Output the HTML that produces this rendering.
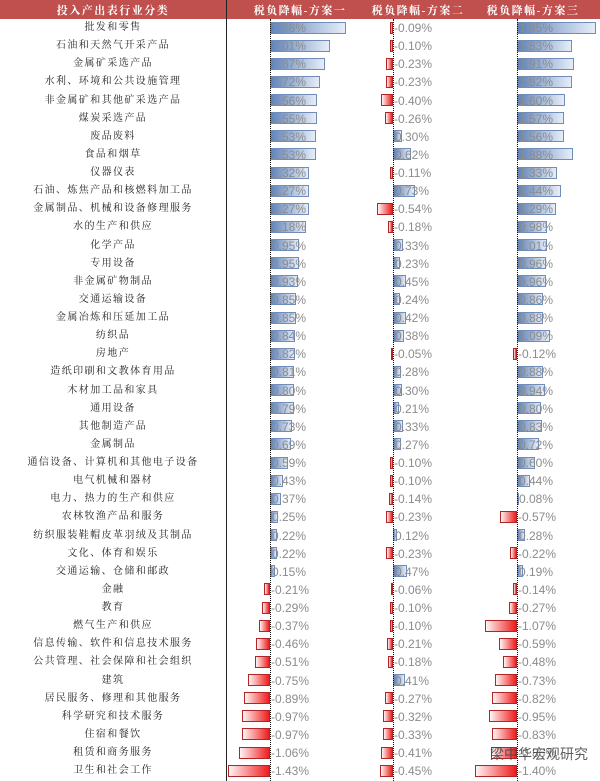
<!DOCTYPE html>
<html><head><meta charset="utf-8"><style>
body{margin:0;width:600px;height:781px;overflow:hidden;background:#fff;position:relative;font-family:"Liberation Sans","Noto Sans CJK SC",sans-serif}
.h{position:absolute;left:0;top:0;width:600px;height:19px;background:#c0504d}
.h span{position:absolute;top:2px;color:#fff;font:bold 11px "Liberation Serif","Noto Serif CJK SC",serif;letter-spacing:1.5px;white-space:nowrap;transform:translateX(-50%)}
.vl{position:absolute;left:226px;top:0;width:1px;height:781px;background:#222}
.z{position:absolute;top:19px;height:762px;border-left:1px dotted #111}
#rows{position:absolute;top:19px;left:0;width:600px}
.r{position:relative;height:18.14px}
.l{position:absolute;left:0;width:226px;text-align:center;font:10px "Liberation Serif","Noto Serif CJK SC",serif;letter-spacing:1.4px;color:#222;line-height:18px;white-space:nowrap}
i{position:absolute;top:2.5px;height:12px;box-sizing:border-box}
i.p{background:linear-gradient(to right,#5f82b8,#e6edf8);border:1px solid #6f8cba}
i.n{background:linear-gradient(to right,#fff4f4,#ee1c1c);border:1px solid #b32525}
s{position:absolute;text-decoration:none;font-size:12px;color:#8c8c8c;line-height:18px}
.wm{position:absolute;left:490px;top:744px;font:14px "Noto Sans CJK SC",sans-serif;color:#444;opacity:.85}
</style></head><body>
<div class="h"><span style="left:113px">投入产出表行业分类</span><span style="left:300px">税负降幅-方案一</span><span style="left:418px">税负降幅-方案二</span><span style="left:533px">税负降幅-方案三</span></div>
<div class="vl"></div>
<div id="rows">
<div class="r"><div class="l">批发和零售</div><i class="p" style="left:270px;width:76px"></i><s style="left:272px">1.66%</s><i class="n" style="left:390px;width:3px"></i><s style="left:394px">-0.09%</s><i class="p" style="left:517px;width:79px"></i><s style="left:519px">1.65%</s></div>
<div class="r"><div class="l">石油和天然气开采产品</div><i class="p" style="left:270px;width:60px"></i><s style="left:272px">1.01%</s><i class="n" style="left:390px;width:3px"></i><s style="left:394px">-0.10%</s><i class="p" style="left:517px;width:55px"></i><s style="left:519px">1.83%</s></div>
<div class="r"><div class="l">金属矿采选产品</div><i class="p" style="left:270px;width:55px"></i><s style="left:272px">1.87%</s><i class="n" style="left:386px;width:7px"></i><s style="left:394px">-0.23%</s><i class="p" style="left:517px;width:57px"></i><s style="left:519px">1.91%</s></div>
<div class="r"><div class="l">水利、环境和公共设施管理</div><i class="p" style="left:270px;width:50px"></i><s style="left:272px">1.72%</s><i class="n" style="left:386px;width:7px"></i><s style="left:394px">-0.23%</s><i class="p" style="left:517px;width:55px"></i><s style="left:519px">1.82%</s></div>
<div class="r"><div class="l">非金属矿和其他矿采选产品</div><i class="p" style="left:270px;width:47px"></i><s style="left:272px">1.56%</s><i class="n" style="left:381px;width:12px"></i><s style="left:394px">-0.40%</s><i class="p" style="left:517px;width:48px"></i><s style="left:519px">1.60%</s></div>
<div class="r"><div class="l">煤炭采选产品</div><i class="p" style="left:270px;width:47px"></i><s style="left:272px">1.55%</s><i class="n" style="left:385px;width:8px"></i><s style="left:394px">-0.26%</s><i class="p" style="left:517px;width:47px"></i><s style="left:519px">1.57%</s></div>
<div class="r"><div class="l">废品废料</div><i class="p" style="left:270px;width:46px"></i><s style="left:272px">1.53%</s><i class="p" style="left:393px;width:9px"></i><s style="left:395px">0.30%</s><i class="p" style="left:517px;width:47px"></i><s style="left:519px">1.56%</s></div>
<div class="r"><div class="l">食品和烟草</div><i class="p" style="left:270px;width:46px"></i><s style="left:272px">1.53%</s><i class="p" style="left:393px;width:18px"></i><s style="left:395px">0.62%</s><i class="p" style="left:517px;width:56px"></i><s style="left:519px">1.88%</s></div>
<div class="r"><div class="l">仪器仪表</div><i class="p" style="left:270px;width:39px"></i><s style="left:272px">1.32%</s><i class="n" style="left:390px;width:3px"></i><s style="left:394px">-0.11%</s><i class="p" style="left:517px;width:40px"></i><s style="left:519px">1.33%</s></div>
<div class="r"><div class="l">石油、炼焦产品和核燃料加工品</div><i class="p" style="left:270px;width:39px"></i><s style="left:272px">1.27%</s><i class="p" style="left:393px;width:22px"></i><s style="left:395px">0.73%</s><i class="p" style="left:517px;width:44px"></i><s style="left:519px">1.44%</s></div>
<div class="r"><div class="l">金属制品、机械和设备修理服务</div><i class="p" style="left:270px;width:39px"></i><s style="left:272px">1.27%</s><i class="n" style="left:377px;width:16px"></i><s style="left:394px">-0.54%</s><i class="p" style="left:517px;width:39px"></i><s style="left:519px">1.29%</s></div>
<div class="r"><div class="l">水的生产和供应</div><i class="p" style="left:270px;width:36px"></i><s style="left:272px">1.18%</s><i class="n" style="left:388px;width:5px"></i><s style="left:394px">-0.18%</s><i class="p" style="left:517px;width:30px"></i><s style="left:519px">0.98%</s></div>
<div class="r"><div class="l">化学产品</div><i class="p" style="left:270px;width:29px"></i><s style="left:272px">0.95%</s><i class="p" style="left:393px;width:10px"></i><s style="left:395px">0.33%</s><i class="p" style="left:517px;width:30px"></i><s style="left:519px">1.01%</s></div>
<div class="r"><div class="l">专用设备</div><i class="p" style="left:270px;width:29px"></i><s style="left:272px">0.95%</s><i class="p" style="left:393px;width:7px"></i><s style="left:395px">0.23%</s><i class="p" style="left:517px;width:29px"></i><s style="left:519px">0.96%</s></div>
<div class="r"><div class="l">非金属矿物制品</div><i class="p" style="left:270px;width:28px"></i><s style="left:272px">0.93%</s><i class="p" style="left:393px;width:13px"></i><s style="left:395px">0.45%</s><i class="p" style="left:517px;width:29px"></i><s style="left:519px">0.96%</s></div>
<div class="r"><div class="l">交通运输设备</div><i class="p" style="left:270px;width:26px"></i><s style="left:272px">0.85%</s><i class="p" style="left:393px;width:7px"></i><s style="left:395px">0.24%</s><i class="p" style="left:517px;width:26px"></i><s style="left:519px">0.86%</s></div>
<div class="r"><div class="l">金属冶炼和压延加工品</div><i class="p" style="left:270px;width:26px"></i><s style="left:272px">0.85%</s><i class="p" style="left:393px;width:13px"></i><s style="left:395px">0.42%</s><i class="p" style="left:517px;width:26px"></i><s style="left:519px">0.88%</s></div>
<div class="r"><div class="l">纺织品</div><i class="p" style="left:270px;width:25px"></i><s style="left:272px">0.84%</s><i class="p" style="left:393px;width:11px"></i><s style="left:395px">0.38%</s><i class="p" style="left:517px;width:33px"></i><s style="left:519px">1.09%</s></div>
<div class="r"><div class="l">房地产</div><i class="p" style="left:270px;width:25px"></i><s style="left:272px">0.82%</s><i class="n" style="left:391px;width:2px"></i><s style="left:394px">-0.05%</s><i class="n" style="left:513px;width:4px"></i><s style="left:518px">-0.12%</s></div>
<div class="r"><div class="l">造纸印刷和文教体育用品</div><i class="p" style="left:270px;width:24px"></i><s style="left:272px">0.81%</s><i class="p" style="left:393px;width:8px"></i><s style="left:395px">0.28%</s><i class="p" style="left:517px;width:26px"></i><s style="left:519px">0.88%</s></div>
<div class="r"><div class="l">木材加工品和家具</div><i class="p" style="left:270px;width:24px"></i><s style="left:272px">0.80%</s><i class="p" style="left:393px;width:9px"></i><s style="left:395px">0.30%</s><i class="p" style="left:517px;width:28px"></i><s style="left:519px">0.94%</s></div>
<div class="r"><div class="l">通用设备</div><i class="p" style="left:270px;width:24px"></i><s style="left:272px">0.79%</s><i class="p" style="left:393px;width:6px"></i><s style="left:395px">0.21%</s><i class="p" style="left:517px;width:24px"></i><s style="left:519px">0.80%</s></div>
<div class="r"><div class="l">其他制造产品</div><i class="p" style="left:270px;width:22px"></i><s style="left:272px">0.73%</s><i class="p" style="left:393px;width:10px"></i><s style="left:395px">0.33%</s><i class="p" style="left:517px;width:25px"></i><s style="left:519px">0.83%</s></div>
<div class="r"><div class="l">金属制品</div><i class="p" style="left:270px;width:21px"></i><s style="left:272px">0.69%</s><i class="p" style="left:393px;width:8px"></i><s style="left:395px">0.27%</s><i class="p" style="left:517px;width:22px"></i><s style="left:519px">0.72%</s></div>
<div class="r"><div class="l">通信设备、计算机和其他电子设备</div><i class="p" style="left:270px;width:18px"></i><s style="left:272px">0.59%</s><i class="n" style="left:390px;width:3px"></i><s style="left:394px">-0.10%</s><i class="p" style="left:517px;width:18px"></i><s style="left:519px">0.60%</s></div>
<div class="r"><div class="l">电气机械和器材</div><i class="p" style="left:270px;width:13px"></i><s style="left:272px">0.43%</s><i class="n" style="left:390px;width:3px"></i><s style="left:394px">-0.10%</s><i class="p" style="left:517px;width:13px"></i><s style="left:519px">0.44%</s></div>
<div class="r"><div class="l">电力、热力的生产和供应</div><i class="p" style="left:270px;width:11px"></i><s style="left:272px">0.37%</s><i class="n" style="left:389px;width:4px"></i><s style="left:394px">-0.14%</s><i class="p" style="left:517px;width:2px"></i><s style="left:519px">0.08%</s></div>
<div class="r"><div class="l">农林牧渔产品和服务</div><i class="p" style="left:270px;width:8px"></i><s style="left:272px">0.25%</s><i class="n" style="left:386px;width:7px"></i><s style="left:394px">-0.23%</s><i class="n" style="left:500px;width:17px"></i><s style="left:518px">-0.57%</s></div>
<div class="r"><div class="l">纺织服装鞋帽皮革羽绒及其制品</div><i class="p" style="left:270px;width:7px"></i><s style="left:272px">0.22%</s><i class="p" style="left:393px;width:4px"></i><s style="left:395px">0.12%</s><i class="p" style="left:517px;width:8px"></i><s style="left:519px">0.28%</s></div>
<div class="r"><div class="l">文化、体育和娱乐</div><i class="p" style="left:270px;width:7px"></i><s style="left:272px">0.22%</s><i class="n" style="left:386px;width:7px"></i><s style="left:394px">-0.23%</s><i class="n" style="left:510px;width:7px"></i><s style="left:518px">-0.22%</s></div>
<div class="r"><div class="l">交通运输、仓储和邮政</div><i class="p" style="left:270px;width:5px"></i><s style="left:272px">0.15%</s><i class="p" style="left:393px;width:14px"></i><s style="left:395px">0.47%</s><i class="p" style="left:517px;width:6px"></i><s style="left:519px">0.19%</s></div>
<div class="r"><div class="l">金融</div><i class="n" style="left:264px;width:6px"></i><s style="left:271px">-0.21%</s><i class="n" style="left:391px;width:2px"></i><s style="left:394px">-0.06%</s><i class="n" style="left:513px;width:4px"></i><s style="left:518px">-0.14%</s></div>
<div class="r"><div class="l">教育</div><i class="n" style="left:262px;width:8px"></i><s style="left:271px">-0.29%</s><i class="n" style="left:390px;width:3px"></i><s style="left:394px">-0.10%</s><i class="n" style="left:509px;width:8px"></i><s style="left:518px">-0.27%</s></div>
<div class="r"><div class="l">燃气生产和供应</div><i class="n" style="left:259px;width:11px"></i><s style="left:271px">-0.37%</s><i class="n" style="left:390px;width:3px"></i><s style="left:394px">-0.10%</s><i class="n" style="left:485px;width:32px"></i><s style="left:518px">-1.07%</s></div>
<div class="r"><div class="l">信息传输、软件和信息技术服务</div><i class="n" style="left:256px;width:14px"></i><s style="left:271px">-0.46%</s><i class="n" style="left:387px;width:6px"></i><s style="left:394px">-0.21%</s><i class="n" style="left:499px;width:18px"></i><s style="left:518px">-0.59%</s></div>
<div class="r"><div class="l">公共管理、社会保障和社会组织</div><i class="n" style="left:255px;width:15px"></i><s style="left:271px">-0.51%</s><i class="n" style="left:388px;width:5px"></i><s style="left:394px">-0.18%</s><i class="n" style="left:503px;width:14px"></i><s style="left:518px">-0.48%</s></div>
<div class="r"><div class="l">建筑</div><i class="n" style="left:248px;width:22px"></i><s style="left:271px">-0.75%</s><i class="p" style="left:393px;width:12px"></i><s style="left:395px">0.41%</s><i class="n" style="left:495px;width:22px"></i><s style="left:518px">-0.73%</s></div>
<div class="r"><div class="l">居民服务、修理和其他服务</div><i class="n" style="left:244px;width:26px"></i><s style="left:271px">-0.89%</s><i class="n" style="left:385px;width:8px"></i><s style="left:394px">-0.27%</s><i class="n" style="left:492px;width:25px"></i><s style="left:518px">-0.82%</s></div>
<div class="r"><div class="l">科学研究和技术服务</div><i class="n" style="left:242px;width:28px"></i><s style="left:271px">-0.97%</s><i class="n" style="left:383px;width:10px"></i><s style="left:394px">-0.32%</s><i class="n" style="left:489px;width:28px"></i><s style="left:518px">-0.95%</s></div>
<div class="r"><div class="l">住宿和餐饮</div><i class="n" style="left:242px;width:28px"></i><s style="left:271px">-0.97%</s><i class="n" style="left:383px;width:10px"></i><s style="left:394px">-0.33%</s><i class="n" style="left:492px;width:25px"></i><s style="left:518px">-0.83%</s></div>
<div class="r"><div class="l">租赁和商务服务</div><i class="n" style="left:239px;width:31px"></i><s style="left:271px">-1.06%</s><i class="n" style="left:381px;width:12px"></i><s style="left:394px">-0.41%</s><i class="n" style="left:491px;width:26px"></i><s style="left:518px">-0.86%</s></div>
<div class="r"><div class="l">卫生和社会工作</div><i class="n" style="left:228px;width:42px"></i><s style="left:271px">-1.43%</s><i class="n" style="left:380px;width:13px"></i><s style="left:394px">-0.45%</s><i class="n" style="left:475px;width:42px"></i><s style="left:518px">-1.40%</s></div>
</div>
<div class="z" style="left:270px"></div>
<div class="z" style="left:393px"></div>
<div class="z" style="left:517px"></div>
<div class="wm">梁中华宏观研究</div>
</body></html>
